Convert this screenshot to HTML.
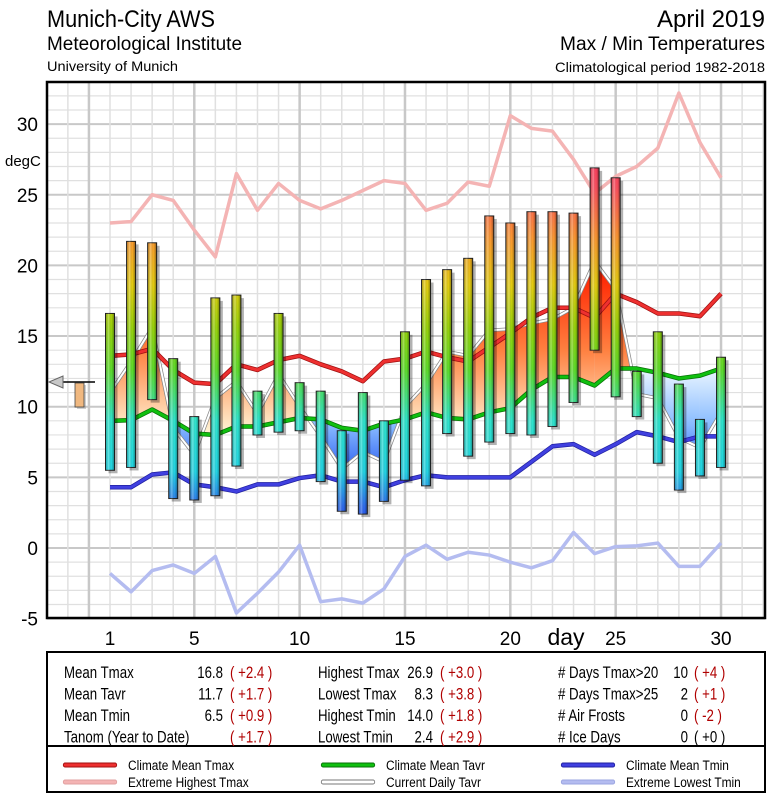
<!DOCTYPE html>
<html><head><meta charset="utf-8"><style>
html,body{margin:0;padding:0;background:#fff;width:775px;height:800px;overflow:hidden}
svg{display:block;font-family:"Liberation Sans",sans-serif}
</style></head><body>
<svg id="c" width="775" height="800" viewBox="0 0 775 800" xmlns="http://www.w3.org/2000/svg">
<defs>
<linearGradient id="barGrad" gradientUnits="userSpaceOnUse" x1="0" y1="548" x2="0" y2="124">
<stop offset="0" stop-color="#1a1aff"/>
<stop offset="0.1" stop-color="#2f6ff0"/>
<stop offset="0.18" stop-color="#22d8e8"/>
<stop offset="0.3" stop-color="#2ee8d0"/>
<stop offset="0.42" stop-color="#5ee02a"/>
<stop offset="0.52" stop-color="#9ad60a"/>
<stop offset="0.62" stop-color="#e8d010"/>
<stop offset="0.73" stop-color="#ff9a30"/>
<stop offset="0.85" stop-color="#ff5060"/>
<stop offset="1" stop-color="#ff2060"/>
</linearGradient>
<linearGradient id="cyl" x1="0" y1="0" x2="1" y2="0">
<stop offset="0" stop-color="#000" stop-opacity="0.2"/>
<stop offset="0.35" stop-color="#fff" stop-opacity="0.3"/>
<stop offset="0.65" stop-color="#000" stop-opacity="0"/>
<stop offset="1" stop-color="#000" stop-opacity="0.4"/>
</linearGradient>
<linearGradient id="warm" gradientUnits="userSpaceOnUse" x1="0" y1="270" x2="0" y2="430">
<stop offset="0" stop-color="#ff2000"/>
<stop offset="0.5" stop-color="#ff8040"/>
<stop offset="1" stop-color="#fff0d0"/>
</linearGradient>
<linearGradient id="cold" gradientUnits="userSpaceOnUse" x1="0" y1="370" x2="0" y2="480">
<stop offset="0" stop-color="#e8f4ff"/>
<stop offset="0.5" stop-color="#88bbff"/>
<stop offset="1" stop-color="#2050f0"/>
</linearGradient>
</defs>
<g>
<text x="47" y="27" font-size="24" textLength="168" lengthAdjust="spacingAndGlyphs">Munich-City AWS</text>
<text x="47" y="50" font-size="19" textLength="195" lengthAdjust="spacingAndGlyphs">Meteorological Institute</text>
<text x="47" y="71" font-size="14" textLength="131" lengthAdjust="spacingAndGlyphs">University of Munich</text>
<text x="765" y="27" font-size="24" text-anchor="end" textLength="108" lengthAdjust="spacingAndGlyphs">April 2019</text>
<text x="765" y="50" font-size="19" text-anchor="end" textLength="205" lengthAdjust="spacingAndGlyphs">Max / Min Temperatures</text>
<text x="765" y="72" font-size="14" text-anchor="end" textLength="210" lengthAdjust="spacingAndGlyphs">Climatological period 1982-2018</text>
</g>
<g id="grid"></g>
<g id="fills"></g>
<g id="lines"></g>
<g id="bars"></g>
<rect x="47" y="82" width="718" height="536" fill="none" stroke="#000" stroke-width="2.5"/>
<g id="axes"></g>
<g>
<line x1="60" y1="382" x2="95" y2="382" stroke="#000" stroke-width="1.5"/>
<polygon points="49,382 63,376 63,388" fill="#c8c8c8" stroke="#666" stroke-width="1"/>
<rect x="77" y="385" width="9" height="24" fill="#888" opacity="0.4"/>
<rect x="75" y="383" width="9" height="24" fill="#f0b880" stroke="#444" stroke-width="0.8"/>
</g>
<g>
<rect x="47" y="652" width="718" height="140" fill="#fff" stroke="#000" stroke-width="2"/>
<line x1="47" y1="746" x2="765" y2="746" stroke="#000" stroke-width="2"/>
<g id="stats" font-size="17" transform="scale(0.78,1)"></g>
<g id="legend" font-size="14" transform="scale(0.85,1)"></g>
</g>
</svg>
<script>
var days=[1,2,3,4,5,6,7,8,9,10,11,12,13,14,15,16,17,18,19,20,21,22,23,24,25,26,27,28,29,30];
var tmax=[16.6,21.7,21.6,13.4,9.3,17.7,17.9,11.1,16.6,11.7,11.1,8.3,11.0,9.0,15.3,19.0,19.7,20.5,23.5,23.0,23.8,23.8,23.7,26.9,26.2,12.5,15.3,11.6,9.1,13.5];
var tmin=[5.5,5.7,10.5,3.5,3.4,3.7,5.8,8.0,8.2,8.3,4.7,2.6,2.4,3.3,4.8,4.4,8.1,6.5,7.5,8.1,8.0,8.6,10.3,14.0,10.7,9.3,6.0,4.1,5.1,5.7];
var tavgNow=[11.0,13.2,15.6,8.5,6.6,10.6,11.8,9.5,12.3,10.0,7.9,5.6,6.8,6.1,10.0,11.6,13.9,13.6,15.4,15.5,15.9,16.2,17.0,20.3,18.3,10.9,10.6,7.8,7.1,9.6];
var climTmax=[13.6,13.7,14.1,12.6,11.7,11.6,13.0,12.6,13.3,13.6,13.0,12.5,11.8,13.2,13.4,13.9,13.5,13.2,14.2,15.2,16.3,17.0,17.0,16.3,18.0,17.4,16.6,16.6,16.4,18.0];
var climTavr=[9.0,9.05,9.8,9.0,8.1,8.0,8.6,8.6,8.9,9.2,9.1,8.5,8.3,8.8,9.1,9.6,9.2,9.1,9.6,9.9,11.2,12.1,12.1,11.5,12.7,12.7,12.4,12.0,12.2,12.7];
var climTmin=[4.3,4.3,5.2,5.35,4.5,4.3,4.0,4.5,4.5,4.95,5.15,4.7,4.7,4.3,4.8,5.15,5.0,5.0,5.0,5.0,6.1,7.2,7.35,6.6,7.35,8.2,7.9,7.5,7.9,7.9];
var extHigh=[23.0,23.1,25.0,24.6,22.5,20.6,26.5,23.9,25.8,24.6,24.0,24.6,25.3,26.0,25.8,23.9,24.4,25.9,25.6,30.6,29.7,29.5,27.5,25.1,26.3,27.0,28.3,32.2,28.7,26.2];
var extLow=[-1.8,-3.1,-1.6,-1.2,-1.8,-0.6,-4.6,-3.2,-1.7,0.2,-3.8,-3.6,-3.9,-2.9,-0.6,0.2,-0.8,-0.3,-0.5,-1.0,-1.4,-0.9,1.1,-0.4,0.1,0.15,0.35,-1.3,-1.3,0.35];
var yTicks=[-5,0,5,10,15,20,25,30];
var xTicks=[1,5,10,15,20,25,30];

var NS='http://www.w3.org/2000/svg';
function X(d){return 110+(d-1)*21.07;}
function Y(v){return 548-v*14.13;}
function mk(tag,attrs,parent){var e=document.createElementNS(NS,tag);for(var k in attrs)e.setAttribute(k,attrs[k]);parent.appendChild(e);return e;}
var grid=document.getElementById('grid'),axes=document.getElementById('axes'),lines=document.getElementById('lines'),bars=document.getElementById('bars'),fills=document.getElementById('fills');
for(var v=-5;v<=33;v++){var l=mk('line',{x1:47,x2:765,y1:Y(v),y2:Y(v),stroke:v%5===0?'#c8c8c8':'#e0e0e0','stroke-width':v%5===0?2:1.2},grid);

}
for(var d=-2;d<=32;d++){var l2=mk('line',{x1:X(d),x2:X(d),y1:82,y2:618,stroke:d%5===0?'#c8c8c8':'#e0e0e0','stroke-width':d%5===0?2.5:1.5},grid);

}
yTicks.forEach(function(t){var e=mk('text',{x:38,y:Y(t)+7,'font-size':19,'text-anchor':'end'},axes);e.textContent=t;

});
xTicks.forEach(function(t){var e=mk('text',{x:X(t),y:645,'font-size':19,'text-anchor':'middle'},axes);e.textContent=t;

});
var yt=mk('text',{x:5,y:166,'font-size':15},axes);yt.textContent='degC';


var xt=mk('text',{x:566,y:645,'font-size':23,'text-anchor':'middle'},axes);xt.textContent='day';


function seg(xa,xb,na,nb,ca,cb,pos){var p=mk('polygon',{points:xa+','+Y(na)+' '+xb+','+Y(nb)+' '+xb+','+Y(cb)+' '+xa+','+Y(ca),fill:pos?'url(#warm)':'url(#cold)'},fills);
  
  }
for(var i=0;i<days.length-1;i++){
  var x0=X(days[i]),x1=X(days[i+1]);
  var a0=tavgNow[i]-climTavr[i],a1=tavgNow[i+1]-climTavr[i+1];
  if(a0*a1>=0){seg(x0,x1,tavgNow[i],tavgNow[i+1],climTavr[i],climTavr[i+1],(a0+a1)>=0);}
  else{var f=a0/(a0-a1),xm=x0+f*(x1-x0),vm=climTavr[i]+f*(climTavr[i+1]-climTavr[i]);
    seg(x0,xm,tavgNow[i],vm,climTavr[i],vm,a0>0);seg(xm,x1,vm,tavgNow[i+1],vm,climTavr[i+1],a1>0);}
}
function poly(arr,color,w,name,outline){var pts=days.map(function(d,i){return X(d)+','+Y(arr[i]);}).join(' ');
 if(outline){var o=mk('polyline',{points:pts,fill:'none',stroke:outline,'stroke-width':w+1.5,'stroke-linejoin':'round'},lines);
 
 }
 var p=mk('polyline',{points:pts,fill:'none',stroke:color,'stroke-width':w,'stroke-linejoin':'round'},lines);
 
 }
poly(extHigh,'#f4b4b4',3.5,'extreme-highest-tmax-line');
poly(extLow,'#b4bcf0',3.5,'extreme-lowest-tmin-line');
poly(tavgNow,'#ffffff',2,'current-daily-tavr-line','#888');
poly(climTmax,'#ee3030',3,'climate-mean-tmax-line','#a01010');
poly(climTavr,'#10c010',3,'climate-mean-tavr-line','#087008');
poly(climTmin,'#4040e0',3,'climate-mean-tmin-line','#2020a0');
days.forEach(function(d,i){var x=X(d)-4.5,yt=Y(tmax[i]),yb=Y(tmin[i]);
 var s=mk('rect',{x:x+3,y:yt+3,width:9,height:yb-yt,fill:'#000',opacity:0.3},bars);
 
 
 var b=mk('rect',{x:x,y:yt,width:9,height:yb-yt,fill:'url(#barGrad)',stroke:'#222','stroke-width':1},bars);
 
 
 var c=mk('rect',{x:x,y:yt,width:9,height:yb-yt,fill:'url(#cyl)'},bars);
 
 });
var st=document.getElementById('stats');
var S=0.78;
var rows=[
 [64,'Mean Tmax',223,'16.8',230,'( +2.4 )','#b00000'],
 [64,'Mean Tavr',223,'11.7',230,'( +1.7 )','#b00000'],
 [64,'Mean Tmin',223,'6.5',230,'( +0.9 )','#b00000'],
 [64,'Tanom (Year to Date)',null,'',230,'( +1.7 )','#b00000'],
 [318,'Highest Tmax',433,'26.9',440,'( +3.0 )','#b00000'],
 [318,'Lowest Tmax',433,'8.3',440,'( +3.8 )','#b00000'],
 [318,'Highest Tmin',433,'14.0',440,'( +1.8 )','#b00000'],
 [318,'Lowest Tmin',433,'2.4',440,'( +2.9 )','#b00000'],
 [558,'# Days Tmax>20',688,'10',694,'( +4 )','#b00000'],
 [558,'# Days Tmax>25',688,'2',694,'( +1 )','#b00000'],
 [558,'# Air Frosts',688,'0',694,'( -2 )','#b00000'],
 [558,'# Ice Days',688,'0',694,'( +0 )','#000']];
rows.forEach(function(r,i){var y=678+(i%4)*21.5;
 var a=mk('text',{x:r[0]/S,y:y},st);a.textContent=r[1];
 
 
 if(r[2]){var b=mk('text',{x:r[2]/S,y:y,'text-anchor':'end'},st);b.textContent=r[3];
 
 }
 var c=mk('text',{x:r[4]/S,y:y,fill:r[6]},st);c.textContent=r[5];
 
 });
var lg=document.getElementById('legend');
var LS=0.85;
var items=[[65,765,'#ee3030','#a01010','Climate Mean Tmax'],[65,782,'#f4b4b4','#e0a0a0','Extreme Highest Tmax'],
 [323,765,'#10c010','#087008','Climate Mean Tavr'],[323,782,'#ffffff','#777','Current Daily Tavr'],
 [563,765,'#4040e0','#2020a0','Climate Mean Tmin'],[563,782,'#b4bcf0','#9aa4e0','Extreme Lowest Tmin']];
items.forEach(function(it){
 var o=mk('line',{x1:it[0]/LS,x2:(it[0]+50)/LS,y1:it[1],y2:it[1],stroke:it[3],'stroke-width':5,'stroke-linecap':'round'},lg);
 
 
 var l=mk('line',{x1:it[0]/LS,x2:(it[0]+50)/LS,y1:it[1],y2:it[1],stroke:it[2],'stroke-width':3,'stroke-linecap':'round'},lg);
 
 
 var t=mk('text',{x:(it[0]+63)/LS,y:it[1]+5},lg);t.textContent=it[4];
 
 });
</script>
</body></html>
